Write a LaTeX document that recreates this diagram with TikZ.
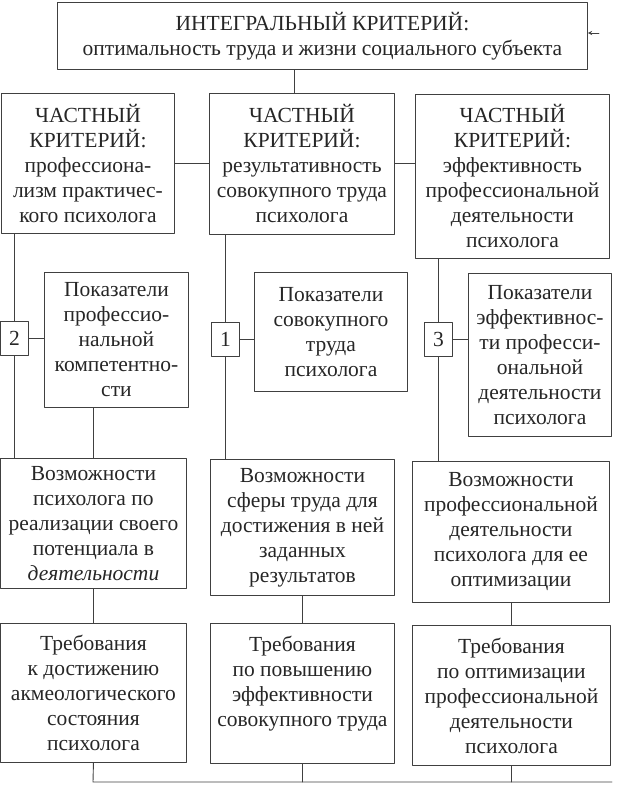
\documentclass[tikz,border=0pt]{standalone}
\usepackage{fontspec}
\setmainfont{Liberation Serif}
\begin{document}
\begin{tikzpicture}[x=1pt, y=-1pt, line join=round, line cap=round, >=stealth,
	font=\fontsize{21.5}{25}\selectfont,
	box/.style={draw=black!75, line width=0.9pt, anchor=north west, align=center, inner sep=2pt, text=black!85},
	numbox/.style={box, minimum width=28, minimum height=34},
	link/.style={draw=black!75, line width=0.9pt}]
	
	\useasboundingbox (0,0) rectangle (617,786);
	
	% integral criterion
	\node[box, minimum width=530, minimum height=67] (top) at (57,2)
		{ИНТЕГРАЛЬНЫЙ КРИТЕРИЙ:\\оптимальность труда и жизни социального субъекта};
	
	% partial criteria
	\node[box, minimum width=173, minimum height=140] (k1) at (1,93)
		{ЧАСТНЫЙ\\КРИТЕРИЙ:\\профессиона-\\лизм практичес-\\кого психолога};
	\node[box, minimum width=185, minimum height=141] (k2) at (209,93)
		{ЧАСТНЫЙ\\КРИТЕРИЙ:\\результативность\\совокупного труда\\психолога};
	\node[box, minimum width=194, minimum height=164] (k3) at (415,94)
		{ЧАСТНЫЙ\\КРИТЕРИЙ:\\эффективность\\профессиональной\\деятельности\\психолога};
	
	% numbers
	\node[numbox] (n2) at (0,321) {2};
	\node[numbox] (n1) at (211,322) {1};
	\node[numbox] (n3) at (424,322) {3};
	
	% indicators
	\node[box, minimum width=144, minimum height=135] (p1) at (44,272)
		{Показатели\\профессио-\\нальной\\компетентно-\\сти};
	\node[box, minimum width=153, minimum height=119] (p2) at (254,272)
		{Показатели\\совокупного\\труда\\психолога};
	\node[box, minimum width=143, minimum height=163] (p3) at (468,273)
		{Показатели\\эффективнос-\\ти професси-\\ональной\\деятельности\\психолога};
	
	% possibilities
	\node[box, minimum width=186, minimum height=130] (v1) at (0,458)
		{Возможности\\психолога по\\реализации своего\\потенциала в\\\textit{деятельности}};
	\node[box, minimum width=184, minimum height=136] (v2) at (210,459)
		{Возможности\\сферы труда для\\достижения в ней\\заданных\\результатов};
	\node[box, minimum width=197, minimum height=141] (v3) at (412,461)
		{Возможности\\профессиональной\\деятельности\\психолога для ее\\оптимизации};
	
	% requirements
	\node[box, minimum width=186, minimum height=139] (t1) at (0,623)
		{Требования\\к достижению\\акмеологического\\состояния\\психолога};
	\node[box, minimum width=184, minimum height=140] (t2) at (210,623)
		{Требования\\по повышению\\эффективности\\совокупного труда\\~};
	\node[box, minimum width=198, minimum height=140] (t3) at (412,625)
		{Требования\\по оптимизации\\профессиональной\\деятельности\\психолога};
	
	\coordinate (c0) at (294,0);
	\coordinate (fb) at (599,33);
	\coordinate (busL) at (93,782);
	\coordinate (busR) at (612,782);
	
	% connectors
	\draw[link] (c0 |- top.south) -- (c0 |- k2.north);
	\draw[link] (k1.east) -- (k1.east -| k2.west);
	\draw[link] (k2.east) -- (k2.east -| k3.west);
	
	\draw[link] (n2 |- k1.south) -- (n2.north);
	\draw[link] (n2.south) -- (n2 |- v1.north);
	\draw[link] (n1 |- k2.south) -- (n1.north);
	\draw[link] (n1.south) -- (n1 |- v2.north);
	\draw[link] (n3 |- k3.south) -- (n3.north);
	\draw[link] (n3.south) -- (n3 |- v3.north);
	
	\draw[link] (n2.east) -- (n2.east -| p1.west);
	\draw[link] (n1.east) -- (n1.east -| p2.west);
	\draw[link] (n3.east) -- (n3.east -| p3.west);
	
	\draw[link] (v1.north |- p1.south) -- (v1.north);
	\draw[link] (v1.south) -- (t1.north);
	\draw[link] (v2.south) -- (v2.south |- t2.north);
	\draw[link] (v3.south) -- (v3.south |- t3.north);
	
	\draw[link] (t1.south) -- (busL) -- (busR);
	\draw[link] (t2.south) -- (t2.south |- busL);
	\draw[link] (t3.south) -- (t3.south |- busL);
	
	\draw[link, ->] (fb) -- (fb -| top.east);
\end{tikzpicture}
\end{document}
